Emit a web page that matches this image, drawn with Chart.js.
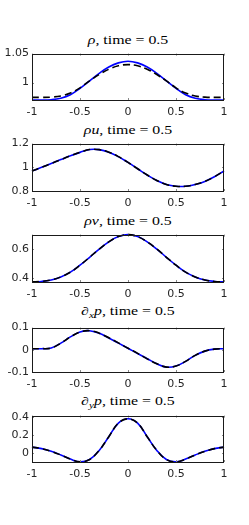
<!DOCTYPE html>
<html>
<head>
<meta charset="utf-8">
<script src="https://cdn.jsdelivr.net/npm/chart.js@4"></script>
<style>
  body { margin: 0; background: #fff; width: 249px; height: 525px; position: relative; overflow: hidden; }
  canvas { position: absolute; left: 0; }
  .ttl { position: absolute; left: 32px; width: 192px; text-align: center; font: 11.5px "Liberation Serif", "DejaVu Serif", serif; line-height: 14px; color: #000; white-space: nowrap; transform: scaleX(1.38); transform-origin: 96px 50%; }
  .ttl sub { font-size: 8px; line-height: 0; }
</style>
</head>
<body>
<div class="ttl" style="top:33px"><i>ρ</i>, time = 0.5</div>
<div class="ttl" style="top:123px"><i>ρu</i>, time = 0.5</div>
<div class="ttl" style="top:214px"><i>ρv</i>, time = 0.5</div>
<div class="ttl" style="top:304px">∂<sub><i>x</i></sub><i>p</i>, time = 0.5</div>
<div class="ttl" style="top:394px">∂<sub><i>y</i></sub><i>p</i>, time = 0.5</div>

<canvas id="c1"></canvas>
<canvas id="c2"></canvas>
<canvas id="c3"></canvas>
<canvas id="c4"></canvas>
<canvas id="c5"></canvas>

<script>
// x positions
const xs = [-1, -0.9, -0.8, -0.7, -0.6, -0.5, -0.4, -0.3, -0.2, -0.1, 0, 0.1, 0.2, 0.3, 0.4, 0.5, 0.6, 0.7, 0.8, 0.9, 1];
const xTicks = [-1, -0.5, 0, 0.5, 1];

// rho
const rhoBlue  = [0.970, 0.970, 0.9705, 0.973, 0.979, 0.990, 1.003, 1.016, 1.027, 1.034, 1.0367, 1.034, 1.027, 1.016, 1.003, 0.990, 0.979, 0.973, 0.9705, 0.970, 0.970];
const rhoBlack = [0.9745, 0.9745, 0.975, 0.977, 0.982, 0.991, 1.003, 1.014, 1.023, 1.029, 1.031, 1.029, 1.023, 1.014, 1.003, 0.991, 0.982, 0.977, 0.975, 0.9745, 0.9745];
const rhoTicks = [1, 1.05];

// rho u
const ruBlue  = [0.969, 1.000, 1.032, 1.065, 1.097, 1.126, 1.150, 1.149, 1.128, 1.090, 1.041, 0.988, 0.935, 0.889, 0.855, 0.840, 0.840, 0.855, 0.881, 0.920, 0.969];
const ruBlack = [0.969, 1.000, 1.032, 1.065, 1.097, 1.126, 1.150, 1.149, 1.128, 1.090, 1.041, 0.988, 0.935, 0.889, 0.855, 0.840, 0.840, 0.855, 0.881, 0.920, 0.969];
const ruTicks = [0.8, 1, 1.2];

// rho v
const rvBlue  = [0.373, 0.376, 0.386, 0.407, 0.440, 0.488, 0.543, 0.600, 0.650, 0.686, 0.700, 0.686, 0.650, 0.600, 0.543, 0.488, 0.440, 0.407, 0.386, 0.376, 0.373];
const rvBlack = [0.373, 0.376, 0.386, 0.407, 0.440, 0.488, 0.543, 0.600, 0.650, 0.686, 0.700, 0.686, 0.650, 0.600, 0.543, 0.488, 0.440, 0.407, 0.386, 0.376, 0.373];
const rvTicks = [0.4, 0.6];

// d_x p
const dxpBlue  = [0.005, 0.005, 0.008, 0.030, 0.058, 0.080, 0.086, 0.074, 0.053, 0.030, 0.007, -0.017, -0.040, -0.063, -0.078, -0.073, -0.052, -0.025, -0.006, 0.003, 0.005];
const dxpBlack = [0.005, 0.005, 0.008, 0.030, 0.058, 0.080, 0.086, 0.075, 0.054, 0.031, 0.007, -0.016, -0.041, -0.063, -0.078, -0.073, -0.052, -0.025, -0.006, 0.003, 0.005];
const dxpTicks = [-0.1, 0, 0.1];

// d_y p
const dypBlue  = [0.066, 0.050, 0.020, -0.020, -0.065, -0.096, -0.070, 0.030, 0.180, 0.330, 0.377, 0.330, 0.180, 0.030, -0.070, -0.096, -0.065, -0.020, 0.020, 0.050, 0.066];
const dypBlack = [0.066, 0.050, 0.020, -0.020, -0.065, -0.096, -0.070, 0.030, 0.180, 0.330, 0.377, 0.330, 0.180, 0.030, -0.070, -0.096, -0.065, -0.020, 0.020, 0.050, 0.066];
const dypTicks = [0, 0.2, 0.4];

const tickFont = { family: '"DejaVu Sans", "Liberation Sans", sans-serif', size: 11 };
const tickColor = '#262626';

// box + inner tick marks like matlab
const boxPlugin = {
  id: 'box',
  afterDatasetsDraw(chart) {
    const a = chart.chartArea, ctx = chart.ctx;
    const xs_ = chart.scales.x, ys_ = chart.scales.y;
    ctx.save();
    ctx.strokeStyle = '#8a8a8a';
    ctx.lineWidth = 1;
    ctx.beginPath();
    xs_.ticks.forEach(t => {
      const px = Math.round(xs_.getPixelForValue(t.value)) + 0.5;
      ctx.moveTo(px, a.bottom); ctx.lineTo(px, a.bottom - 2);
      ctx.moveTo(px, a.top); ctx.lineTo(px, a.top + 2);
    });
    ys_.ticks.forEach(t => {
      const py = Math.round(ys_.getPixelForValue(t.value)) + 0.5;
      ctx.moveTo(a.left, py); ctx.lineTo(a.left + 2, py);
      ctx.moveTo(a.right, py); ctx.lineTo(a.right - 2, py);
    });
    ctx.stroke();
    ctx.strokeStyle = '#1a1a1a';
    ctx.strokeRect(Math.round(a.left) + 0.5, Math.round(a.top) + 0.5, Math.round(a.right - a.left) - 1, Math.round(a.bottom - a.top));
    ctx.restore();
  }
};

function dibujar(id, boxTop, boxBottom, blue, black, yTicks, yMin, yMax) {
  const cv = document.getElementById(id);
  const h = boxBottom - boxTop + 8 + 22;
  cv.width = 249;
  cv.height = h;
  cv.style.top = (boxTop - 8) + 'px';
  new Chart(cv, {
    type: 'line',
    data: {
      datasets: [
        {
          data: xs.map((x, i) => ({ x: x, y: black[i] })),
          borderColor: '#000000',
          borderWidth: 1.6,
          borderDash: [7, 4],
          pointRadius: 0,
          tension: 0.4,
          fill: false
        },
        {
          data: xs.map((x, i) => ({ x: x, y: blue[i] })),
          borderColor: '#0000ff',
          borderWidth: 1.6,
          pointRadius: 0,
          tension: 0.4,
          fill: false
        }
      ]
    },
    options: {
      responsive: false,
      animation: false,
      clip: false,
      layout: { padding: { top: 8, right: 25, bottom: 0, left: 0 } },
      plugins: { legend: { display: false }, tooltip: { enabled: false } },
      scales: {
        x: {
          type: 'linear',
          min: -1,
          max: 1,
          afterBuildTicks: s => { s.ticks = xTicks.map(v => ({ value: v })); },
          afterFit: s => { s.height = 22; },
          grid: { display: false, drawTicks: false },
          border: { display: false },
          ticks: { font: tickFont, color: tickColor, padding: 6, maxRotation: 0, callback: v => String(v) }
        },
        y: {
          min: yMin,
          max: yMax,
          afterBuildTicks: s => { s.ticks = yTicks.map(v => ({ value: v })); },
          afterFit: s => { s.width = 32; },
          grid: { display: false, drawTicks: false },
          border: { display: false },
          ticks: { font: tickFont, color: tickColor, padding: 3, callback: v => String(+v.toFixed(2)) }
        }
      }
    },
    plugins: [boxPlugin]
  });
}

dibujar('c1', 52, 100, rhoBlue, rhoBlack, rhoTicks, 0.97, 1.05);
dibujar('c2', 142, 191, ruBlue, ruBlack, ruTicks, 0.8, 1.2);
dibujar('c3', 233, 282, rvBlue, rvBlack, rvTicks, 0.372, 0.70);
dibujar('c4', 326, 372, dxpBlue, dxpBlack, dxpTicks, -0.1, 0.1);
dibujar('c5', 414, 462, dypBlue, dypBlack, dypTicks, -0.097, 0.412);
</script>
</body>
</html>
